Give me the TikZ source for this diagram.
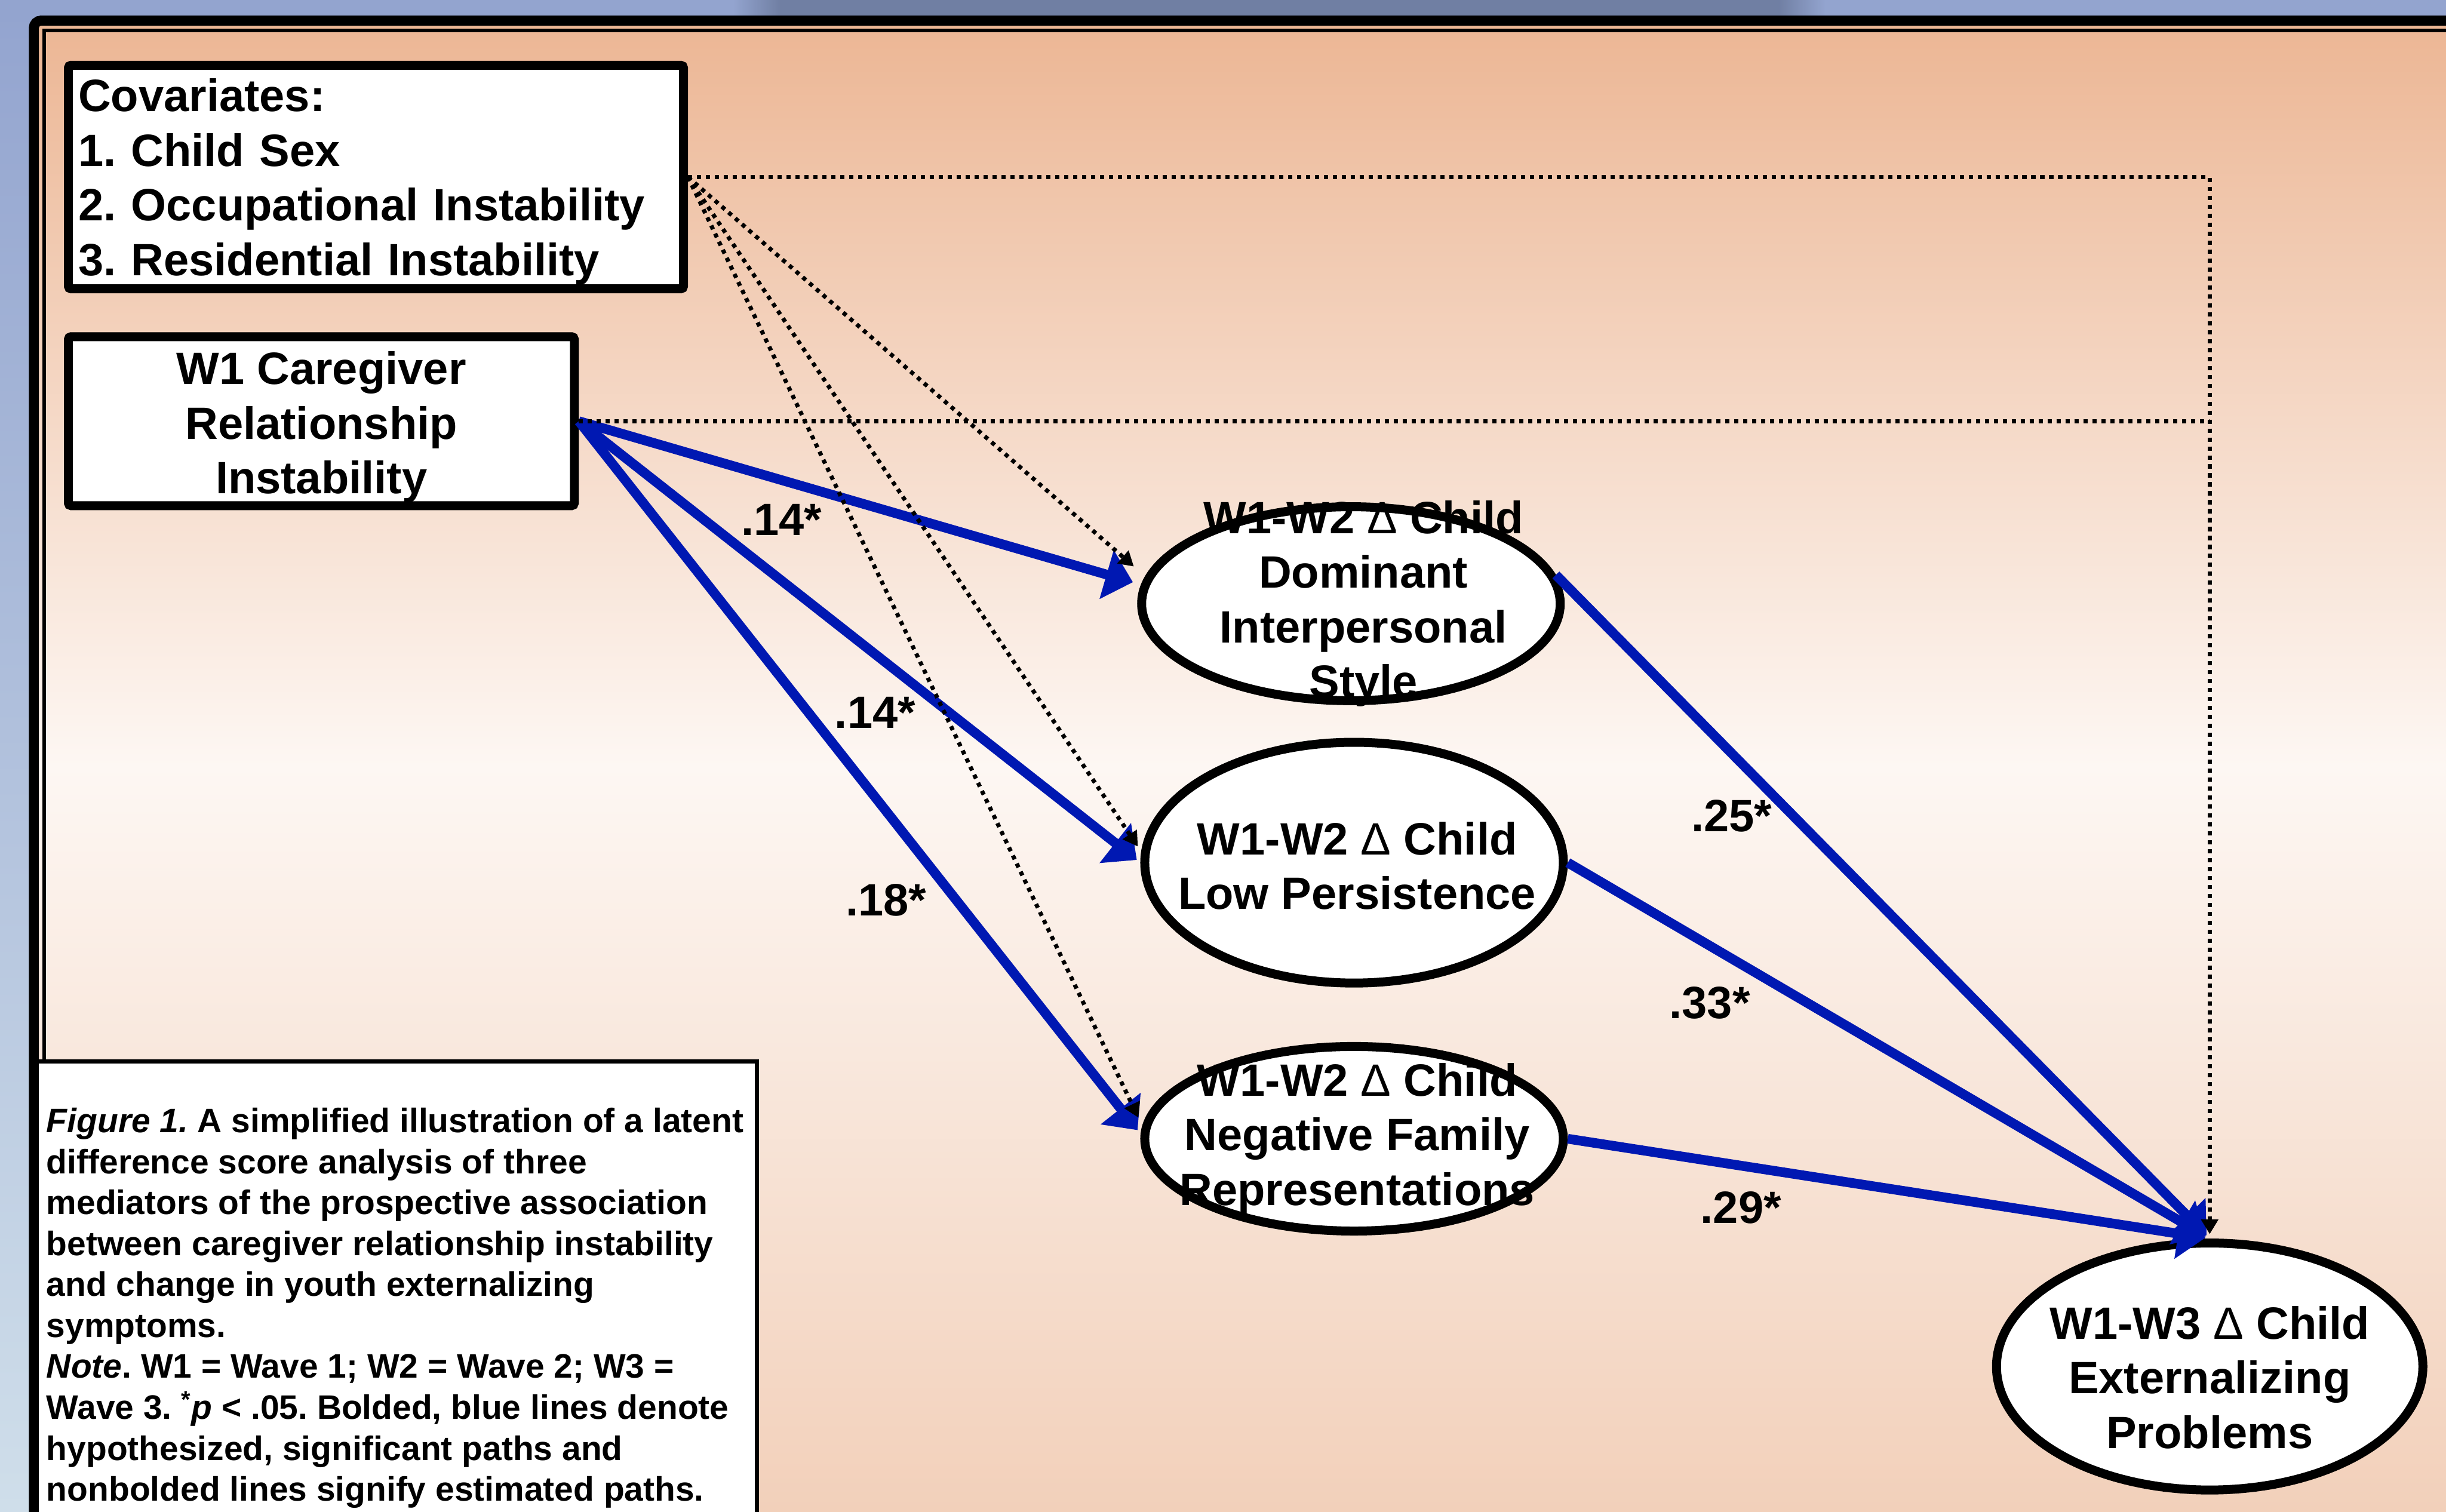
\documentclass[tikz,border=0pt]{standalone}
\usepackage{fontspec}
\setmainfont{Liberation Sans}
\frenchspacing
\usetikzlibrary{arrows.meta,shapes.geometric}

\definecolor{bandblue}{RGB}{147,164,207}
\definecolor{stripblue}{RGB}{207,222,234}
\definecolor{shadowblue}{RGB}{112,127,163}
\definecolor{peachtop}{RGB}{236,182,148}
\definecolor{peachmid}{RGB}{253,247,243}
\definecolor{peachbot}{RGB}{242,208,186}
\definecolor{pathblue}{RGB}{0,24,178}

\tikzset{
	varbox/.style={draw, line width=4.9pt, fill=white, rounded corners=1.5pt, inner sep=0pt, font=\fontsize{24.8pt}{29.9pt}\selectfont\bfseries},
	oval/.style={ellipse, draw, line width=4.9pt, fill=white, inner sep=0pt, minimum width=80.5mm},
	ovaltext/.style={align=center, inner sep=0pt, font=\fontsize{24.8pt}{29.9pt}\selectfont\bfseries},
	coef/.style={inner sep=0pt, font=\fontsize{24.8pt}{29.9pt}\selectfont\bfseries},
	sig/.style={pathblue, line width=5.3pt, -{Triangle[length=15pt,width=27pt]}, shorten >=2.4pt},
	est/.style={line width=2.3pt, dash pattern=on 2.3pt off 2.6pt},
	esttip/.style={est, -{Triangle[length=8pt,width=9pt]}, shorten >=2.4pt},
}

\begin{document}
\begin{tikzpicture}[x=0.3mm, y=-0.3mm]
	\useasboundingbox (0,0) rectangle (1568,969);
	\clip (0,0) rectangle (1568,969);
	\shade[top color=bandblue, bottom color=stripblue] (0,0) rectangle (22,969);
	\fill[bandblue] (0,0) rectangle (1568,14);
	\shade[left color=bandblue, right color=shadowblue] (470,0) rectangle (500,12);
	\fill[shadowblue] (500,0) rectangle (1140,12);
	\shade[left color=shadowblue, right color=bandblue] (1140,0) rectangle (1170,12);
	\shade[top color=peachtop, bottom color=peachbot, middle color=peachmid] (22,13) rectangle (1568,969);
	\draw[line width=5.5pt, rounded corners=4pt] (21.7,13.2) rectangle (1700,1100);
	\draw[line width=1.8pt] (28.3,19.6) rectangle (1700,1100);

	\node[varbox, minimum width=118.3mm, minimum height=43mm, text width=114.5mm, inner xsep=1.9mm, align=left] (cov) at (241,113.5)
		{\rule{0pt}{23.2pt}Covariates:\\1. Child Sex\\2. Occupational Instability\\3. Residential Instability};
	\node[varbox, minimum width=97.3mm, minimum height=32.5mm, align=center] (w1) at (206,270)
		{\rule{0pt}{24.6pt}W1 Caregiver\\Relationship\\Instability};

	\node[oval, minimum height=37.3mm] (dom) at (866,387) {};
	\node[ovaltext] (domtext) at ([xshift=2.4mm]dom) {W1-W2 {\mdseries Δ} Child\\Dominant\\Interpersonal\\Style};
	\node[oval, minimum height=46.3mm] (low) at (868,553) {};
	\node[ovaltext] (lowtext) at ([xshift=0.6mm,yshift=-0.6mm]low) {W1-W2 {\mdseries Δ} Child\\Low Persistence};
	\node[oval, minimum height=35.5mm] (neg) at (868,730) {};
	\node[ovaltext] (negtext) at ([xshift=0.6mm]neg) {W1-W2 {\mdseries Δ} Child\\Negative Family\\Representations};
	\node[oval, minimum width=82mm, minimum height=47.5mm] (ext) at (1416.5,876) {};
	\node[ovaltext] (exttext) at ([yshift=-2.1mm]ext) {W1-W3 {\mdseries Δ} Child\\Externalizing\\Problems};

	\draw[sig] (w1.east) -- ([yshift=3.9mm]dom.west);
	\draw[sig] (w1.east) -- (low.west);
	\draw[sig] (w1.east) -- ([yshift=1mm]neg.west);
	\draw[sig] (dom.8) -- (ext.north);
	\draw[sig] (low.east) -- (ext.north);
	\draw[sig] (neg.east) -- (ext.north);

	\draw[esttip] (cov.east) -- (ext.north |- cov.east) -- (ext.north);
	\draw[est] (w1.east) -- (ext.north |- w1.east);
	\draw[esttip] (cov.east) -- ([yshift=6.6mm]dom.west);
	\draw[esttip] (cov.east) -- ([yshift=2.4mm]low.west);
	\draw[esttip] (cov.east) -- ([yshift=3.3mm]neg.west);

	\node[coef] (b1) at (501,333) {.14*};
	\node[coef] (b2) at (561,457) {.14*};
	\node[coef] (b3) at (568,577) {.18*};
	\node[coef] (b4) at (1110,523) {.25*};
	\node[coef] (b5) at (1096,643) {.33*};
	\node[coef] (b6) at (1116,774) {.29*};

	\node[draw, line width=2.3pt, fill=white, minimum width=138.6mm, minimum height=96mm, anchor=north west] (capbox) at (22,679) {};
	\node[align=left, inner sep=0pt, anchor=north west, font=\fontsize{18.6pt}{22.4pt}\selectfont\bfseries] (note) at (29.6,710)
		{\textit{Figure 1.} A simplified illustration of a latent\\
		difference score analysis of three\\
		mediators of the prospective association\\
		between caregiver relationship instability\\
		and change in youth externalizing\\
		symptoms.\\
		\textit{Note}. W1 = Wave 1; W2 = Wave 2; W3 =\\
		Wave 3. \textsuperscript{*}\textit{p} < .05. Bolded, blue lines denote\\
		hypothesized, significant paths and\\
		nonbolded lines signify estimated paths.};
\end{tikzpicture}
\end{document}
